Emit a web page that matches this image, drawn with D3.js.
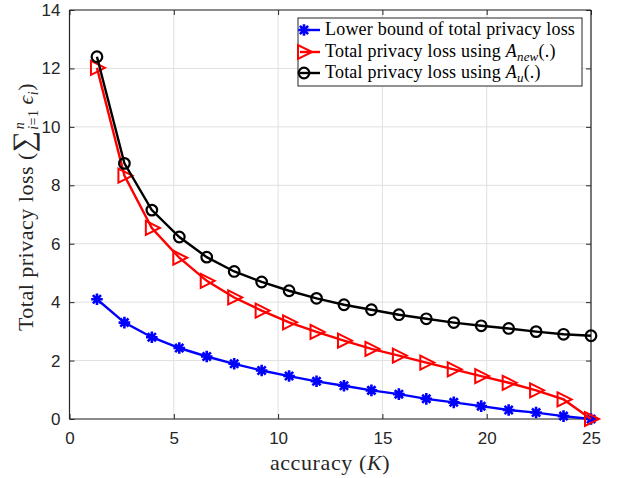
<!DOCTYPE html>
<html>
<head>
<meta charset="utf-8">
<script src="https://cdn.jsdelivr.net/npm/d3@7/dist/d3.min.js"></script>
<style>
body{margin:0;background:#fff;}
svg{display:block;}
</style>
</head>
<body>
<div id="graph"></div>
<script>
// K values (19 points, 25/19 apart)
var kVals = [1.316,2.632,3.947,5.263,6.579,7.895,9.211,10.526,11.842,13.158,14.474,15.789,17.105,18.421,19.737,21.053,22.368,23.684,25];
var lowerBound = [4.10,3.30,2.80,2.43,2.14,1.89,1.66,1.47,1.29,1.14,0.98,0.85,0.69,0.57,0.44,0.31,0.22,0.10,0.0];
var lossNew = [12.02,8.33,6.54,5.52,4.73,4.16,3.71,3.31,2.98,2.68,2.40,2.17,1.93,1.70,1.47,1.24,0.98,0.67,0.0];
var lossU = [12.40,8.75,7.15,6.23,5.54,5.05,4.69,4.39,4.13,3.91,3.74,3.57,3.43,3.30,3.19,3.10,2.99,2.90,2.85];
var xTicks = [0,5,10,15,20,25];
var yTicks = [0,2,4,6,8,10,12,14];

var W=621, H=478;
var pLeft=69.5, pRight=591, pTop=10, pBottom=419;
var axisColor="#262626";

var x = d3.scaleLinear().domain([0,25]).range([pLeft,pRight]);
var y = d3.scaleLinear().domain([0,14]).range([pBottom,pTop]);

var svg = d3.select("#graph").append("svg").attr("width",W).attr("height",H);
svg.append("rect").attr("width",W).attr("height",H).attr("fill","#fff");

// grid
var grid = svg.append("g");
grid.selectAll(".gx").data(xTicks).enter().append("line")
  .attr("x1",d=>x(d)).attr("x2",d=>x(d)).attr("y1",pTop).attr("y2",pBottom)
  .attr("stroke","#e0e0e0").attr("stroke-width",1);
grid.selectAll(".gy").data(yTicks).enter().append("line")
  .attr("x1",pLeft).attr("x2",pRight).attr("y1",d=>y(d)).attr("y2",d=>y(d))
  .attr("stroke","#e0e0e0").attr("stroke-width",1);

// axes (ticks inside, like matlab)
var xAxis = svg.append("g").attr("transform","translate(0,"+pBottom+")")
  .call(d3.axisBottom(x).tickValues(xTicks).tickSize(-5).tickPadding(13).tickFormat(d3.format("d")));
var xAxisTop = svg.append("g").attr("transform","translate(0,"+pTop+")")
  .call(d3.axisTop(x).tickValues(xTicks).tickSize(-5).tickFormat(""));
var yAxis = svg.append("g").attr("transform","translate("+pLeft+",0)")
  .call(d3.axisLeft(y).tickValues(yTicks).tickSize(-5).tickPadding(9).tickFormat(d3.format("d")));
var yAxisR = svg.append("g").attr("transform","translate("+pRight+",0)")
  .call(d3.axisRight(y).tickValues(yTicks).tickSize(-5).tickFormat(""));
[xAxis,xAxisTop,yAxis,yAxisR].forEach(function(g){
  g.select(".domain").attr("stroke",axisColor).attr("stroke-width",1.2);
  g.selectAll(".tick line").attr("stroke",axisColor).attr("stroke-width",1);
  g.selectAll(".tick text").attr("fill",axisColor).style("font-family","Liberation Sans, Arial, sans-serif").style("font-size","17px");
});
[xAxis,xAxisTop].forEach(function(g){ g.select(".domain").attr("d","M"+pLeft+",0H"+pRight); });
[yAxis,yAxisR].forEach(function(g){ g.select(".domain").attr("d","M0,"+pTop+"V"+pBottom); });

// markers
var asterisk = function(r){
  var s="";
  [0,45,90,135].forEach(function(a){
    var c=Math.cos(a*Math.PI/180)*r, sn=Math.sin(a*Math.PI/180)*r;
    s+="M"+(-c)+","+(-sn)+"L"+c+","+sn;
  });
  return s;
};
var triRight = "M8,0L-6,-7L-6,7Z";

var series = [
  {vals:lowerBound, color:"#0000ff", marker:"star"},
  {vals:lossNew, color:"#ff0000", marker:"tri"},
  {vals:lossU, color:"#000000", marker:"circle"}
];

var line = d3.line().x(d=>x(d[0])).y(d=>y(d[1]));

function drawMarker(g, s, px, py){
  if(s.marker=="star"){
    g.append("path").attr("d",asterisk(5.8)).attr("transform","translate("+px+","+py+")")
      .attr("stroke",s.color).attr("stroke-width",2.6).attr("fill","none");
  } else if(s.marker=="tri"){
    g.append("path").attr("d",triRight).attr("transform","translate("+px+","+py+")")
      .attr("stroke",s.color).attr("stroke-width",2).attr("fill","none");
  } else {
    g.append("circle").attr("cx",px).attr("cy",py).attr("r",5.3)
      .attr("stroke",s.color).attr("stroke-width",2.2).attr("fill","none");
  }
}

series.forEach(function(s){
  var pts = kVals.map((k,i)=>[k,s.vals[i]]);
  var g = svg.append("g");
  g.append("path").datum(pts).attr("d",line).attr("fill","none")
    .attr("stroke",s.color).attr("stroke-width",2.4);
  pts.forEach(function(p){ drawMarker(g,s,x(p[0]),y(p[1])); });
});

// legend
var lg = svg.append("g");
lg.append("rect").attr("x",298).attr("y",18).attr("width",284).attr("height",68)
  .attr("fill","#fff").attr("stroke",axisColor).attr("stroke-width",1);
var serif = "Liberation Serif, Times New Roman, serif";
var legY = [30,52,73];
series.forEach(function(s,i){
  lg.append("line").attr("x1",300).attr("x2",320).attr("y1",legY[i]).attr("y2",legY[i])
    .attr("stroke",s.color).attr("stroke-width",2.4);
  drawMarker(lg,s,304,legY[i]);
});
function legText(i){
  return lg.append("text").attr("x",325).attr("y",legY[i]+5).style("font-family",serif)
    .style("font-size","18px").style("letter-spacing","0.2px").attr("fill","#000");
}
legText(0).text("Lower bound of total privacy loss");
var t1 = legText(1);
t1.append("tspan").text("Total privacy loss using ");
t1.append("tspan").style("font-style","italic").text("A");
t1.append("tspan").attr("dy",4).style("font-size","13px").style("font-style","italic").text("new");
t1.append("tspan").attr("dy",-4).text("(.)");
var t2 = legText(2);
t2.append("tspan").text("Total privacy loss using ");
t2.append("tspan").style("font-style","italic").text("A");
t2.append("tspan").attr("dy",4).style("font-size","13px").style("font-style","italic").text("u");
t2.append("tspan").attr("dy",-4).text("(.)");

// axis labels
var xl = svg.append("text").attr("x",330).attr("y",470).attr("text-anchor","middle")
  .style("font-family",serif).style("font-size","22px").style("letter-spacing","0.6px").attr("fill",axisColor);
xl.append("tspan").text("accuracy (");
xl.append("tspan").style("font-style","italic").text("K");
xl.append("tspan").text(")");

var yl = svg.append("text").attr("transform","translate(33,207) rotate(-90)").attr("text-anchor","middle")
  .style("font-family",serif).style("font-size","22px").style("letter-spacing","0.5px").attr("fill",axisColor);
yl.append("tspan").text("Total privacy loss (");
yl.append("tspan").style("font-size","30px").text("∑");
yl.append("tspan").attr("dx",1).attr("dy",-9).style("font-size","14px").style("font-style","italic").text("n");
yl.append("tspan").attr("dx",-8).attr("dy",14).style("font-size","14px").style("font-style","italic").text("i");
yl.append("tspan").style("font-size","14px").text("=1");
yl.append("tspan").attr("dy",-5).attr("dx",5).style("font-style","italic").text("ϵ");
yl.append("tspan").attr("dy",5).style("font-size","14px").style("font-style","italic").text("i");
yl.append("tspan").attr("dy",-5).text(")");
</script>
</body>
</html>
